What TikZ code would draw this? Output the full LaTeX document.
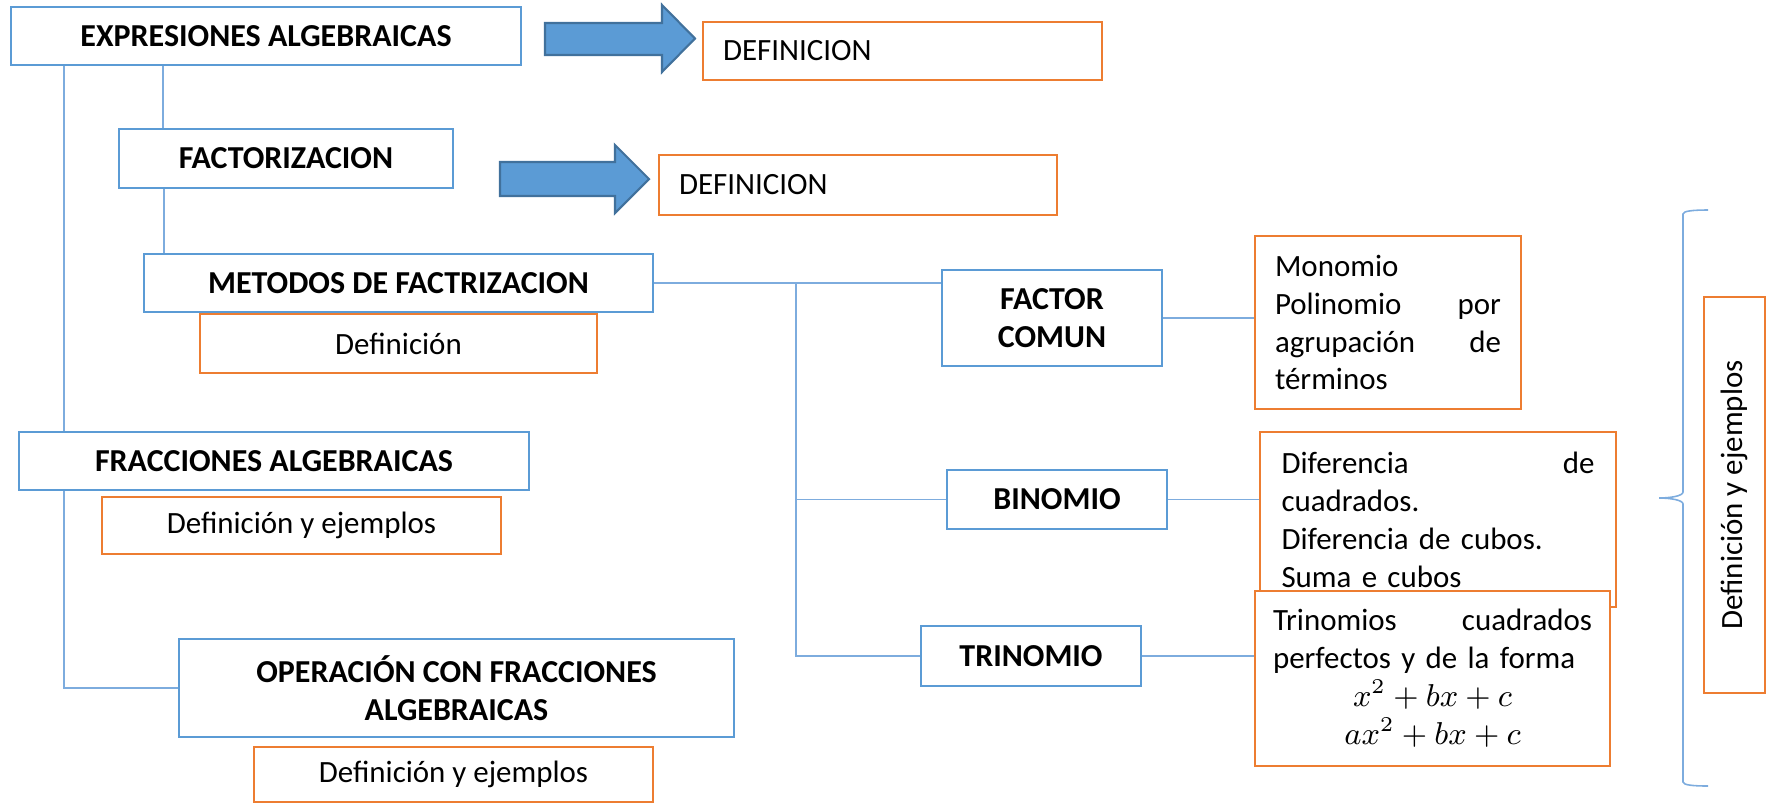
\documentclass[tikz,border=0pt]{standalone}
\usepackage{fontspec}
\setmainfont{Carlito}
\usetikzlibrary{backgrounds}
\definecolor{boxblue}{RGB}{91,155,213}
\definecolor{boxorange}{RGB}{237,125,49}
\definecolor{arrowedge}{RGB}{65,113,156}
\definecolor{linkblue}{RGB}{125,172,222}
\newcommand{\mapfont}{\fontsize{8.8pt}{10.8pt}\selectfont}
\newcommand{\headfont}{\fontsize{9.1pt}{10.8pt}\selectfont\bfseries}
\begin{document}
\begin{tikzpicture}
        [
            title/.style={draw=boxblue, line width=0.7pt, fill=white, inner sep=0pt, align=center, font=\headfont},
            defbox/.style={draw=boxorange, line width=0.7pt, fill=white, inner sep=0pt, align=center, font=\mapfont},
            textbox/.style={defbox, align=left, inner ysep=0pt},
            link/.style={draw=linkblue, line width=0.45pt},
            blockarrow/.style={fill=boxblue, draw=arrowedge, line width=0.6pt},
        ]
            \useasboundingbox (0,0) rectangle (17.67,-8.05);

            \node[title, minimum width=5.10cm, minimum height=0.58cm] (EXPR) at (2.66,-0.36) {EXPRESIONES ALGEBRAICAS};
            \node[title, minimum width=3.34cm, minimum height=0.59cm] (FACT) at (2.86,-1.585) {FACTORIZACION};
            \node[title, minimum width=5.09cm, minimum height=0.58cm] (METODOS) at (3.985,-2.83) {METODOS DE FACTRIZACION};
            \node[defbox, minimum width=3.97cm, minimum height=0.59cm] (DEFMET) at (3.985,-3.435) {Definición};
            \node[title, minimum width=5.10cm, minimum height=0.58cm] (FRAC) at (2.74,-4.61) {FRACCIONES ALGEBRAICAS};
            \node[defbox, minimum width=3.99cm, minimum height=0.57cm] (DEFFRAC) at (3.015,-5.255) {Definición y ejemplos};
            \node[title, minimum width=5.55cm, minimum height=0.98cm] (OPER) at (4.565,-6.88) {OPERACIÓN CON FRACCIONES\\ALGEBRAICAS};
            \node[defbox, minimum width=3.99cm, minimum height=0.55cm] (DEFOPER) at (4.535,-7.745) {Definición y ejemplos};

            \node[textbox, text width=3.59cm, inner xsep=0.2cm, minimum height=0.58cm] (DEF1) at (9.025,-0.51) {DEFINICION};
            \node[textbox, text width=3.58cm, inner xsep=0.2cm, minimum height=0.60cm] (DEF2) at (8.58,-1.85) {DEFINICION};
            \filldraw[blockarrow] (5.45,-0.23) -- (6.62,-0.23) -- (6.62,-0.05) -- (6.95,-0.385) -- (6.62,-0.72) -- (6.62,-0.55) -- (5.45,-0.55) -- cycle;
            \filldraw[blockarrow] (5.00,-1.62) -- (6.15,-1.62) -- (6.15,-1.45) -- (6.49,-1.79) -- (6.15,-2.13) -- (6.15,-1.96) -- (5.00,-1.96) -- cycle;

            \node[title, minimum width=2.20cm, minimum height=0.96cm] (FCOMUN) at (10.52,-3.18) {FACTOR\\COMUN};
            \node[title, minimum width=2.20cm, minimum height=0.59cm] (BINOM) at (10.57,-4.995) {BINOMIO};
            \node[title, minimum width=2.20cm, minimum height=0.60cm] (TRINOM) at (10.31,-6.56) {TRINOMIO};

            \node[textbox, text width=2.26cm, inner xsep=0.2cm, minimum height=1.73cm] (MONO) at (13.88,-3.225)
                {Monomio\\Polinomio \hfill por\\agrupación \hfill de\\términos};
            \node[textbox, text width=3.13cm, inner xsep=0.215cm, minimum height=1.75cm] (DIFER) at (14.38,-5.195)
                {Diferencia \hfill de\\cuadrados.\\Diferencia de cubos.\\Suma e cubos};
            \node[textbox, text width=3.19cm, inner xsep=0.18cm, minimum height=1.75cm] (TRIN) at (14.325,-6.785)
                {Trinomios \hfill cuadrados\\perfectos y de la forma\\\makebox[\hsize]{$x^2+bx+c$}\\\makebox[\hsize]{$ax^2+bx+c$}};

            \node[defbox, rotate=90, minimum width=3.96cm, minimum height=0.61cm] (VERT) at (17.345,-4.95) {Definición y ejemplos};

            \coordinate (spine) at (7.96,-2.83);
            \coordinate (braceTop) at (17.08,-2.10);
            \coordinate (braceTip) at (16.59,-4.98);
            \coordinate (braceBot) at (17.08,-7.86);

            \begin{scope}[on background layer]
                \draw[link] ([xshift=0.54cm]EXPR.south west) |- (OPER.west);
                \draw[link] ([xshift=0.45cm]FACT.north west) -- ([xshift=0.45cm]FACT.north west |- EXPR.south);
                \draw[link] ([xshift=0.46cm]FACT.south west) -- ([xshift=0.46cm]FACT.south west |- METODOS.north);
                \draw[link] (METODOS.east) -- (METODOS.east -| FCOMUN.west);
                \draw[link] (spine) |- (TRINOM.west);
                \draw[link] (spine |- BINOM.west) -- (BINOM.west);
                \draw[link] (FCOMUN.east) -- (FCOMUN.east -| MONO.west);
                \draw[link] (BINOM.east) -- (BINOM.east -| DIFER.west);
                \draw[link] (TRINOM.east) -- (TRINOM.east -| TRIN.west);
            \end{scope}

            \draw[link] (braceTop) .. controls (16.93,-2.10) and (16.83,-2.11) .. (16.83,-2.14)
                -- (16.83,-4.92) .. controls (16.83,-4.96) and (16.70,-4.98) .. (braceTip)
                .. controls (16.70,-4.98) and (16.83,-5.00) .. (16.83,-5.04)
                -- (16.83,-7.82) .. controls (16.83,-7.85) and (16.93,-7.86) .. (braceBot);
        \end{tikzpicture}
\end{document}
